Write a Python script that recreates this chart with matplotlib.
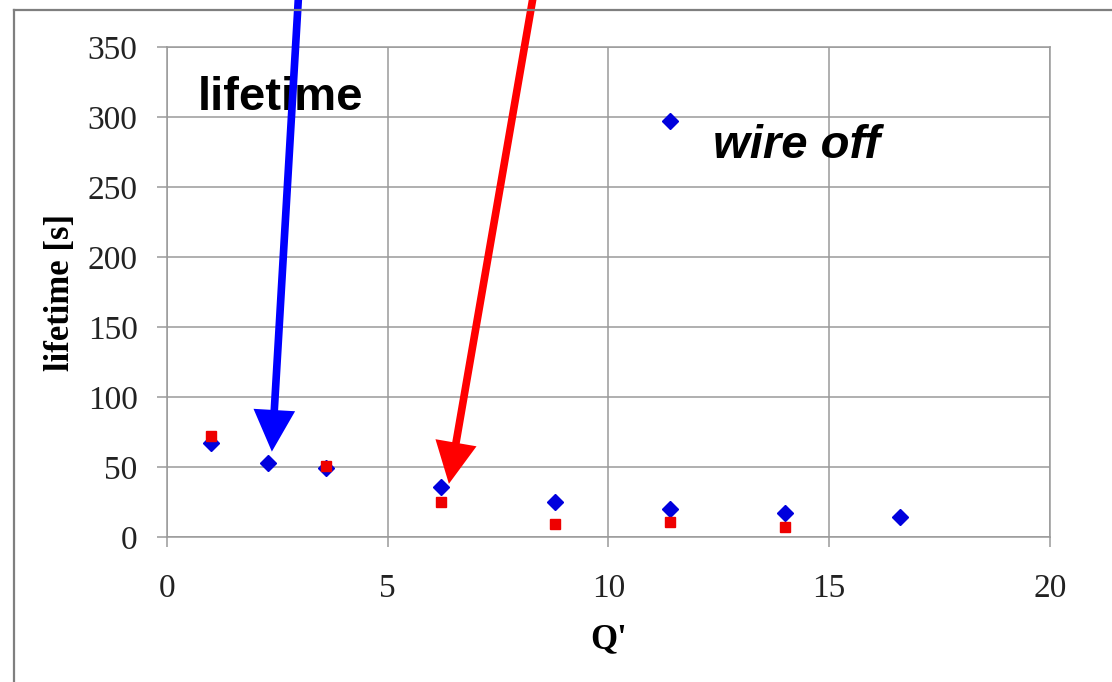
import matplotlib
matplotlib.use("Agg")
import matplotlib.pyplot as plt
from matplotlib.lines import Line2D

# Values
q_blue = [1.0, 2.3, 3.6, 6.2, 8.8, 11.4, 11.4, 14.0, 16.6]
life_blue = [67, 53, 49, 36, 25, 20, 297, 17, 14]
q_red = [1.0, 3.6, 6.2, 8.8, 11.4, 14.0]
life_red = [72, 51, 25, 9, 11, 7]

x_ticks = [0, 5, 10, 15, 20]
y_ticks = [0, 50, 100, 150, 200, 250, 300, 350]

fig = plt.figure(figsize=(11.12, 6.82), dpi=100)
ax = fig.add_axes([0.150, 0.2126, 0.794, 0.7183])

grey = "#9a9a9a"
ax.set_xlim(0, 20)
ax.set_ylim(0, 350)
ax.set_xticks(x_ticks)
ax.set_yticks(y_ticks)
ax.grid(True, color=grey, lw=1.1)
ax.set_axisbelow(True)
for s in ax.spines.values():
    s.set_color(grey)
    s.set_linewidth(1.1)
ax.tick_params(direction="out", length=7, width=1.1, color=grey, labelsize=24)
ax.tick_params(axis="y", pad=14)
ax.tick_params(axis="x", pad=19)
for lab in ax.get_xticklabels() + ax.get_yticklabels():
    lab.set_family("Liberation Serif")
    lab.set_color("#222222")

ax.plot(q_blue, life_blue, "D", color="#0000dd", ms=8, mec="#0000dd", clip_on=False, zorder=3)
ax.plot(q_red, life_red, "s", color="#ee0000", ms=7.5, mec="#ee0000", clip_on=False, zorder=3)

ax.set_ylabel("lifetime [s]", family="Liberation Serif", fontweight="bold", fontsize=25, labelpad=8)
ax.set_xlabel("Q'", family="Liberation Serif", fontweight="bold", fontsize=25, labelpad=14)

ax.text(0.70, 305, "lifetime", family="Liberation Sans", fontweight="bold", fontsize=34)
ax.text(12.37, 271, "wire off", family="Liberation Sans", fontweight="bold", style="italic", fontsize=34)

# arrows starting above the figure
arrow_style = "simple,head_length=3.0,head_width=3.0,tail_width=0.55"
ax.annotate("", xy=(2.38, 61), xytext=(2.99, 390), annotation_clip=False,
            arrowprops=dict(arrowstyle=arrow_style, mutation_scale=10, lw=0,
                            color="#0000ff", shrinkA=0, shrinkB=0))
ax.annotate("", xy=(6.39, 38), xytext=(8.32, 390), annotation_clip=False,
            arrowprops=dict(arrowstyle=arrow_style, mutation_scale=10, lw=0,
                            color="#ff0000", shrinkA=0, shrinkB=0))

# grey frame around the chart (left and top edges visible)
fx = 14 / 1112
fy = 1 - 10 / 682
fig.add_artist(Line2D([fx, fx], [0, fy], transform=fig.transFigure, color="#7f7f7f", lw=1.6))
fig.add_artist(Line2D([fx, 1], [fy, fy], transform=fig.transFigure, color="#7f7f7f", lw=1.6))

fig.savefig("out.png", dpi=100)
